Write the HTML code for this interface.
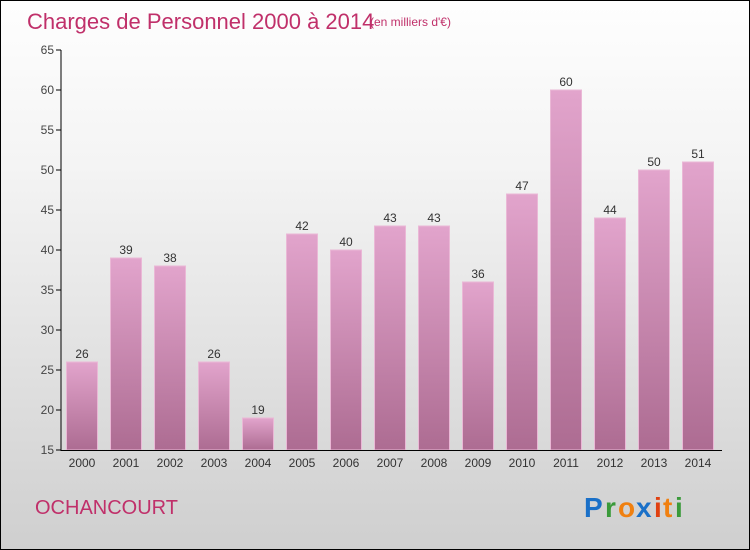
<!DOCTYPE html>
<html><head><meta charset="utf-8"><style>
body{margin:0}
#c{width:750px;height:550px;position:relative;box-sizing:border-box;border:1px solid #000;background:linear-gradient(#fefefe,#f4f4f4 30%,#cfcfcf);font-family:"Liberation Sans",sans-serif;overflow:hidden}
</style></head><body>
<div id="c">
<svg width="748" height="548" style="position:absolute;left:0;top:0">
<defs><linearGradient id="g" x1="0" y1="0" x2="0" y2="1"><stop offset="0" stop-color="#e2a4cc"/><stop offset="1" stop-color="#ad6c92"/></linearGradient></defs>
<text x="26" y="28" font-size="22" fill="#c0306a">Charges de Personnel 2000 à 2014</text>
<text x="369" y="25" font-size="12" fill="#c0306a">(en milliers d'€)</text>
<text x="34" y="513" font-size="20" fill="#c0306a">OCHANCOURT</text>
<g font-size="28" font-weight="bold">
<text x="583" y="516" fill="#1a70c8">P</text><text x="604" y="516" fill="#3a9a3a">r</text><text x="617" y="516" fill="#f08010">o</text><text x="635" y="516" fill="#1a70c8">x</text><text x="653" y="516" fill="#e04010">i</text><text x="662" y="516" fill="#f08010">t</text><text x="674" y="516" fill="#3a9a3a">i</text></g>
<g id="plot"></g>
</svg></div>
<script>
const categories=["2000","2001","2002","2003","2004","2005","2006","2007","2008","2009","2010","2011","2012","2013","2014"];
const values=[26,39,38,26,19,42,40,43,43,36,47,60,44,50,51];
const yTicks=[15,20,25,30,35,40,45,50,55,60,65];
const ns="http://www.w3.org/2000/svg",p=document.getElementById('plot');
const y=v=>450-(v-15)*8, x=i=>82+i*44-1;
function mk(t,a,txt){const e=document.createElementNS(ns,t);for(const k in a)e.setAttribute(k,a[k]);if(txt!=null)e.textContent=txt;p.appendChild(e);return e;}
yTicks.forEach(t=>{
const l=mk('line',{x1:55,x2:60,y1:y(t)-1,y2:y(t)-1,stroke:'#000'});

const tx=mk('text',{x:53,y:y(t)+3,'font-size':12,fill:'#444','text-anchor':'end'},t);

});
categories.forEach((c,i)=>{
const r=mk('rect',{x:x(i)-15.5,y:y(values[i])-1,width:31,height:450-y(values[i]),fill:'url(#g)',stroke:'#eab8d6','stroke-width':1});

const v=mk('text',{x:x(i),y:y(values[i])-5,'font-size':12,fill:'#333','text-anchor':'middle'},values[i]);

const t=mk('text',{x:x(i),y:466,'font-size':12,fill:'#333','text-anchor':'middle'},c);

});
const ya=mk('line',{x1:60,x2:60,y1:49,y2:450,stroke:'#000'});
const xa=mk('line',{x1:60,x2:721,y1:449.5,y2:449.5,stroke:'#000'});
</script>
</body></html>
